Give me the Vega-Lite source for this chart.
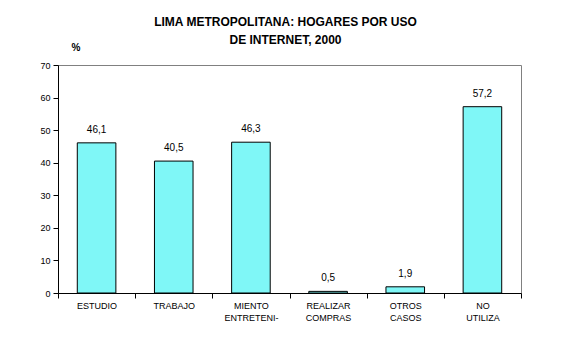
{
  "$schema": "https://vega.github.io/schema/vega-lite/v6.json",
  "autosize": {"type": "none"},
  "padding": {"left": 58, "top": 65, "right": 43, "bottom": 49},
  "width": 463,
  "height": 228,
  "background": "white",
  "config": {
    "locale": {"number": {"decimal": ",", "thousands": ".", "grouping": [3], "currency": ["", ""]}},
    "font": "Liberation Sans",
    "view": {"stroke": "#808080", "strokeWidth": 1},
    "axis": {"domainColor": "black", "tickColor": "black", "labelColor": "black", "labelFont": "Liberation Sans", "labelFontSize": 9, "grid": false}
  },
  "title": {
    "text": ["LIMA METROPOLITANA: HOGARES POR USO", "DE INTERNET, 2000"],
    "font": "Liberation Sans",
    "fontSize": 12,
    "fontWeight": "bold",
    "color": "black",
    "anchor": "middle",
    "frame": "group",
    "lineHeight": 18,
    "offset": 14,
    "dy": 19,
    "dx": -4
  },
  "data": {
    "values": [
      {"uso": "ESTUDIO", "pct": 46.1},
      {"uso": "TRABAJO", "pct": 40.5},
      {"uso": "MIENTO|ENTRETENI-", "pct": 46.3},
      {"uso": "REALIZAR|COMPRAS", "pct": 0.5},
      {"uso": "OTROS|CASOS", "pct": 1.9},
      {"uso": "NO|UTILIZA", "pct": 57.2}
    ]
  },
  "encoding": {
    "x": {
      "field": "uso",
      "type": "nominal",
      "sort": null,
      "scale": {"paddingInner": 0, "paddingOuter": 0},
      "axis": {
        "title": null,
        "labelAngle": 0,
        "labelExpr": "split(datum.label, '|')",
        "labelLineHeight": 12,
        "labelBaseline": "top",
        "ticks": true,
        "tickColor": "black",
        "tickBand": "extent",
        "tickExtra": true,
        "tickSize": 5,
        "tickWidth": 1,
        "labelPadding": 3,
        "zindex": 1
      }
    },
    "y": {
      "field": "pct",
      "type": "quantitative",
      "scale": {"domain": [0, 70], "nice": false},
      "axis": {
        "values": [0, 10, 20, 30, 40, 50, 60, 70],
        "title": "%",
        "titleAngle": 0,
        "titleAlign": "left",
        "titleBaseline": "middle",
        "titleX": 13,
        "titleY": -18,
        "titleFontSize": 10,
        "titleFontWeight": "bold",
        "titleColor": "black",
        "tickSize": 5,
        "labelPadding": 3,
        "zindex": 1
      }
    }
  },
  "layer": [
    {
      "mark": {"type": "bar", "color": "#7ff7f7", "stroke": "black", "strokeWidth": 1, "width": {"band": 0.5}}
    },
    {
      "mark": {"type": "text", "baseline": "bottom", "dy": -8, "fontSize": 10, "color": "black"},
      "encoding": {"text": {"field": "pct", "type": "quantitative", "format": ".1f"}}
    }
  ]
}
